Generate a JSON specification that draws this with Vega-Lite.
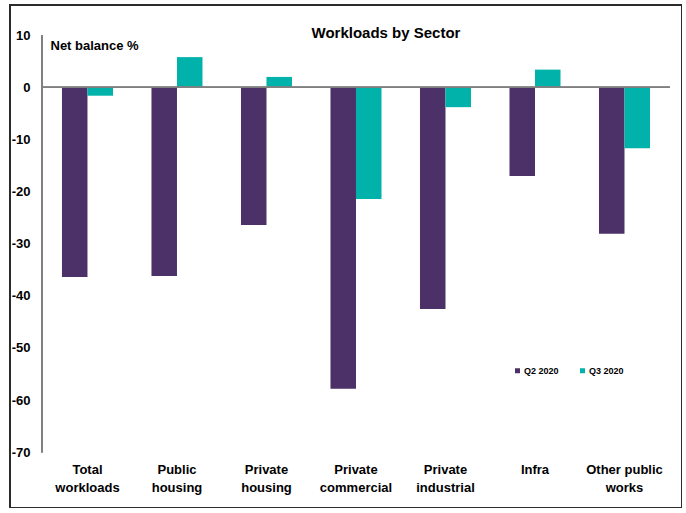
{
  "$schema": "https://vega.github.io/schema/vega-lite/v6.json",
  "autosize": {"type": "none"},
  "width": 672,
  "height": 503,
  "padding": {"left": 10, "top": 5, "right": 0, "bottom": 0},
  "background": "white",
  "config": {
    "font": "Liberation Sans",
    "view": {"stroke": "#2b2b2b", "strokeWidth": 2, "fill": "white"}
  },
  "title": {
    "text": "Workloads by Sector",
    "fontSize": 15,
    "fontWeight": "bold",
    "color": "#000000",
    "anchor": "middle",
    "frame": "group",
    "baseline": "alphabetic",
    "offset": -48,
    "dx": 40
  },
  "data": {
    "values": [
      {"sector": "Total workloads", "series": "Q2 2020", "value": -36.4},
      {"sector": "Total workloads", "series": "Q3 2020", "value": -1.6},
      {"sector": "Public housing", "series": "Q2 2020", "value": -36.2},
      {"sector": "Public housing", "series": "Q3 2020", "value": 5.8},
      {"sector": "Private housing", "series": "Q2 2020", "value": -26.4},
      {"sector": "Private housing", "series": "Q3 2020", "value": 2.0},
      {"sector": "Private commercial", "series": "Q2 2020", "value": -57.8},
      {"sector": "Private commercial", "series": "Q3 2020", "value": -21.4},
      {"sector": "Private industrial", "series": "Q2 2020", "value": -42.5},
      {"sector": "Private industrial", "series": "Q3 2020", "value": -3.8},
      {"sector": "Infra", "series": "Q2 2020", "value": -17.0},
      {"sector": "Infra", "series": "Q3 2020", "value": 3.4},
      {"sector": "Other public works", "series": "Q2 2020", "value": -28.1},
      {"sector": "Other public works", "series": "Q3 2020", "value": -11.7}
    ]
  },
  "encoding": {
    "x": {
      "field": "sector",
      "type": "nominal",
      "sort": ["Total workloads", "Public housing", "Private housing", "Private commercial", "Private industrial", "Infra", "Other public works"],
      "scale": {"paddingInner": 0.43, "paddingOuter": 0.469, "align": 0.619},
      "axis": {
        "orient": "bottom",
        "title": null,
        "domain": false,
        "ticks": false,
        "tickSize": 0,
        "offset": -48,
        "labelPadding": 3,
        "labelAngle": 0,
        "labelFontSize": 13,
        "labelFontWeight": "bold",
        "labelColor": "#000000",
        "labelLineHeight": 18,
        "labelBaseline": "top",
        "labelExpr": "datum.label == 'Other public works' ? ['Other public', 'works'] : split(datum.label, ' ')"
      }
    },
    "y": {
      "field": "value",
      "type": "quantitative",
      "scale": {"domain": [-80.7, 15.8], "nice": false, "zero": false},
      "axis": {
        "values": [-70, -60, -50, -40, -30, -20, -10, 0, 10],
        "labelExpr": "(datum.value < 0 ? '-' : '') + abs(datum.value)",
        "grid": false,
        "domain": false,
        "ticks": false,
        "tickSize": 0,
        "offset": -32,
        "labelPadding": 12,
        "labelFontSize": 13,
        "labelFontWeight": "bold",
        "labelColor": "#000000",
        "title": "Net balance %",
        "titleAngle": 0,
        "titleAlign": "left",
        "titleBaseline": "alphabetic",
        "titleX": 8,
        "titleY": 44,
        "titleFontSize": 13,
        "titleFontWeight": "bold",
        "titleColor": "#000000"
      }
    }
  },
  "layer": [
    {
      "mark": {"type": "bar"},
      "encoding": {
        "xOffset": {"field": "series", "type": "nominal", "scale": {"paddingInner": 0, "paddingOuter": 0}},
        "color": {
          "field": "series",
          "type": "nominal",
          "scale": {"domain": ["Q2 2020", "Q3 2020"], "range": ["#4c3168", "#00b2a9"]},
          "legend": {
            "orient": "none",
            "legendX": 503,
            "legendY": 361,
            "direction": "horizontal",
            "title": null,
            "symbolType": "square",
            "symbolSize": 25,
            "symbolStrokeWidth": 0,
            "labelFontSize": 9,
            "labelFontWeight": "bold",
            "labelColor": "#000000",
            "labelOffset": 2,
            "columnPadding": 19
          }
        }
      }
    },
    {
      "mark": {"type": "rule", "color": "#808080", "strokeWidth": 1},
      "encoding": {
        "x": {"datum": "Total workloads", "bandPosition": -0.392},
        "x2": {"datum": "Other public works", "bandPosition": 1.39},
        "y": {"datum": 0},
        "y2": null
      }
    },
    {
      "mark": {"type": "rule", "color": "#808080", "strokeWidth": 1},
      "encoding": {
        "x": {"datum": "Total workloads", "bandPosition": -0.392},
        "y": {"datum": -70},
        "y2": {"datum": 10}
      }
    }
  ]
}
